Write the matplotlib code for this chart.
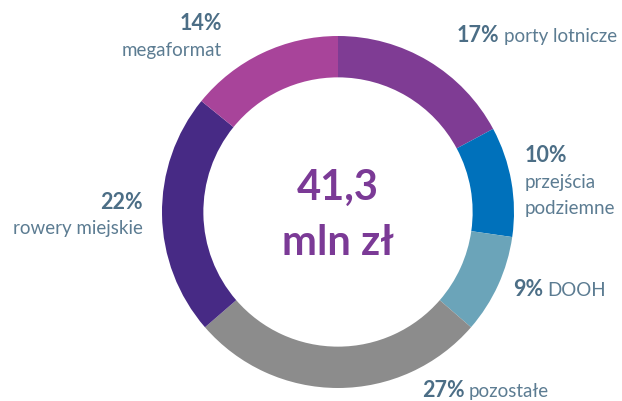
import matplotlib.pyplot as plt

# -- data
labels = ['porty lotnicze', 'przejścia\npodziemne', 'DOOH', 'pozostałe', 'rowery miejskie', 'megaformat']
shares = [17, 10, 9, 27, 22, 14]
colors = ['#7F3C94', '#0071BB', '#6BA4B9', '#8C8C8C', '#472A85', '#A8449A']
total = '41,3'
unit = 'mln zł'

W, H = 622, 401
plt.rcParams['font.family'] = ['Lato', 'DejaVu Sans']

fig = plt.figure(figsize=(W / 100, H / 100), dpi=100)
ax = fig.add_axes([0, 0, 1, 1])
ax.set_xlim(0, W)
ax.set_ylim(0, H)
ax.set_aspect('equal')
ax.axis('off')

cx, cy, r = 338, H - 212, 176
ax.pie(shares, colors=colors, startangle=90, counterclock=False,
       center=(cx, cy), radius=r, frame=True,
       wedgeprops=dict(width=r * 0.235, linewidth=0))
ax.set_xlim(0, W)
ax.set_ylim(0, H)
ax.axis('off')

pct_c = '#4C6E86'
lab_c = '#5C7C92'
PS, LS = 15.5, 13.5

def y(p):
    return H - p

def pair(x, yp, pct, lab):
    t = ax.text(x, y(yp), pct, fontsize=PS, fontweight='bold', color=pct_c, va='baseline', ha='left')
    fig.canvas.draw()
    bb = t.get_window_extent()
    x2 = ax.transData.inverted().transform((bb.x1, 0))[0]
    ax.text(x2 + 4, y(yp), lab, fontsize=LS, color=lab_c, va='baseline', ha='left')

# labels around the ring
ax.text(222, y(30), f'{shares[5]}%', fontsize=PS, fontweight='bold', color=pct_c, ha='right', va='baseline')
ax.text(222, y(56), labels[5], fontsize=LS, color=lab_c, ha='right', va='baseline')

pair(457, 42, f'{shares[0]}%', labels[0])

ax.text(525, y(162), f'{shares[1]}%', fontsize=PS, fontweight='bold', color=pct_c, ha='left', va='baseline')
ax.text(525, y(188), 'przejścia', fontsize=LS, color=lab_c, ha='left', va='baseline')
ax.text(525, y(214), 'podziemne', fontsize=LS, color=lab_c, ha='left', va='baseline')

pair(513, 296, f'{shares[2]}%', labels[2])
pair(422, 397, f'{shares[3]}%', labels[3])

ax.text(143, y(209), f'{shares[4]}%', fontsize=PS, fontweight='bold', color=pct_c, ha='right', va='baseline')
ax.text(143, y(234), labels[4], fontsize=LS, color=lab_c, ha='right', va='baseline')

# centre
ax.text(cx, y(200), total, fontsize=30, fontweight='bold', color='#7B3A96', ha='center', va='baseline')
ax.text(cx, y(255), unit, fontsize=30, fontweight='bold', color='#7B3A96', ha='center', va='baseline')

fig.savefig('out.png', dpi=100)
